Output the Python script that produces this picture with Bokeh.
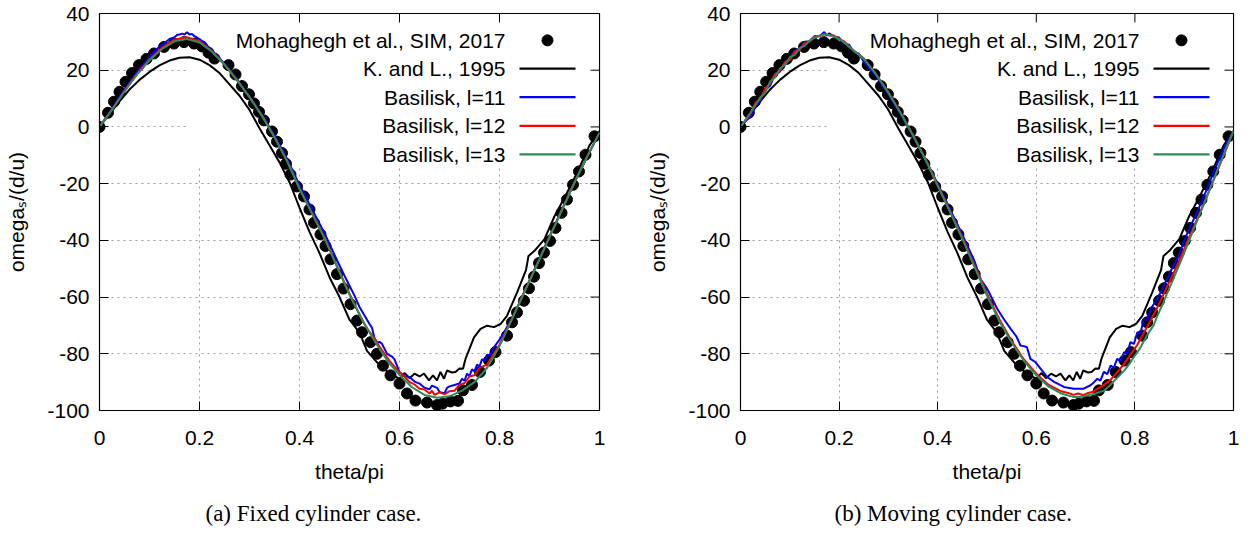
from bokeh.plotting import figure
from bokeh.layouts import row
from bokeh.models import FixedTicker, CustomJSTickFormatter, Label, Title
from bokeh.embed import file_html
from bokeh.resources import INLINE

# ---------------- data ----------------
x_ticks = [0, 0.2, 0.4, 0.6, 0.8, 1]
y_ticks = [-100, -80, -60, -40, -20, 0, 20, 40]

legend_labels = ["Mohaghegh et al., SIM, 2017", "K. and L., 1995",
                 "Basilisk, l=11", "Basilisk, l=12", "Basilisk, l=13"]
captions = ["(a) Fixed cylinder case.", "(b) Moving cylinder case."]
x_label = "theta/pi"
y_label = "omega\u209b/(d/u)"

# Mohaghegh et al. (same reference data in both panels)
theta_dots = [0.000, 0.017, 0.029, 0.040, 0.052, 0.065, 0.079, 0.094, 0.109, 0.129,
              0.149, 0.169, 0.189, 0.205, 0.218, 0.230, 0.258, 0.272, 0.285, 0.299,
              0.309, 0.319, 0.329, 0.345, 0.355, 0.365, 0.373, 0.382, 0.395, 0.409,
              0.420, 0.429, 0.442, 0.452, 0.462, 0.475, 0.488, 0.502, 0.515, 0.525,
              0.542, 0.555, 0.567, 0.582, 0.600, 0.615, 0.632, 0.655, 0.675, 0.686,
              0.702, 0.717, 0.727, 0.745, 0.761, 0.779, 0.792, 0.815, 0.825, 0.835,
              0.849, 0.859, 0.869, 0.879, 0.889, 0.901, 0.912, 0.924, 0.935, 0.947,
              0.959, 0.972, 0.990]
omega_dots = [0.0, 5.0, 8.9, 12.4, 15.9, 19.0, 21.8, 24.0, 25.9, 28.2,
              29.4, 29.9, 29.4, 28.4, 26.2, 24.1, 21.8, 18.5, 14.4, 11.5,
              8.3, 5.3, 2.3, -1.6, -5.2, -9.2, -13.0, -16.8, -21.0, -24.5,
              -29.1, -33.8, -37.9, -42.0, -46.7, -51.9, -57.0, -62.5, -68.3, -72.4,
              -75.9, -80.0, -84.2, -87.6, -90.5, -94.0, -96.5, -97.2, -98.1, -97.6,
              -96.8, -96.6, -92.9, -91.0, -86.4, -82.4, -79.4, -73.6, -68.9, -65.4,
              -61.3, -56.9, -52.8, -48.0, -44.3, -40.2, -35.6, -30.3, -25.6, -20.4,
              -15.7, -9.8, -3.3]

# K. and L., 1995 (same in both panels)
theta_kl = [0.0, 0.02, 0.04, 0.06, 0.08, 0.10, 0.12, 0.14, 0.16, 0.18,
            0.20, 0.22, 0.24, 0.26, 0.28, 0.30, 0.32, 0.34, 0.36, 0.38,
            0.40, 0.42, 0.44, 0.46, 0.48, 0.50, 0.52, 0.535, 0.555, 0.58,
            0.60, 0.61, 0.62, 0.63, 0.64, 0.649, 0.659, 0.667, 0.675, 0.682,
            0.689, 0.695, 0.705, 0.712, 0.72, 0.727, 0.732, 0.749, 0.762, 0.775,
            0.789, 0.802, 0.815, 0.835, 0.853, 0.858, 0.87, 0.89, 0.91, 0.93,
            0.955, 0.98, 1.0]
omega_kl = [0.0, 4.5, 9.0, 13.2, 16.6, 19.4, 21.7, 23.4, 24.4, 24.6,
            23.7, 21.8, 19.0, 15.0, 11.0, 6.0, -0.5, -6.5, -12.5, -19.5,
            -28.5, -37.0, -44.5, -53.0, -60.0, -68.0, -72.5, -79.0, -83.0, -87.0,
            -88.8, -86.8, -88.6, -87.0, -88.0, -87.0, -89.4, -87.6, -89.4, -86.4,
            -88.8, -85.9, -86.6, -86.4, -85.2, -85.3, -81.8, -74.2, -71.2, -70.1,
            -70.6, -69.5, -66.6, -58.4, -50.5, -45.5, -43.7, -39.6, -31.5, -25.0,
            -16.2, -6.5, -1.5]

# ---- fixed cylinder ----
theta_fix_l11 = [0, 0.02, 0.04, 0.06, 0.08, 0.10, 0.11, 0.12, 0.13, 0.14,
                 0.15, 0.155, 0.16, 0.165, 0.17, 0.175, 0.18, 0.185, 0.19, 0.20,
                 0.21, 0.225, 0.25, 0.275, 0.3, 0.325, 0.35, 0.375, 0.4, 0.425,
                 0.45, 0.475, 0.49, 0.5, 0.51, 0.52, 0.53, 0.54, 0.545, 0.55,
                 0.555, 0.56, 0.565, 0.575, 0.585, 0.59, 0.6, 0.61, 0.62, 0.63,
                 0.64, 0.65, 0.66, 0.665, 0.675, 0.68, 0.69, 0.695, 0.70, 0.71,
                 0.72, 0.725, 0.73, 0.735, 0.74, 0.745, 0.75, 0.755, 0.76, 0.765,
                 0.77, 0.775, 0.78, 0.79, 0.8, 0.81, 0.82, 0.83, 0.85, 0.875,
                 0.9, 0.925, 0.95, 0.975, 1.0]
omega_fix_l11 = [0, 5.2, 10.6, 15.6, 20.4, 24.6, 26.6, 28.4, 29.6, 31.0,
                 31.6, 32.4, 32.6, 32.9, 32.6, 33.4, 32.6, 32.8, 32.0, 31.0,
                 29.6, 27.0, 22.3, 16.8, 10.8, 4.3, -3.0, -11.2, -20.5, -29.0,
                 -37.5, -47.0, -52.5, -56.0, -59.5, -63.5, -66.5, -69.5, -70.8, -74.5,
                 -76.0, -75.8, -76.5, -80.0, -81.0, -82.0, -86.5, -87.8, -88.2, -89.8,
                 -90.5, -92.0, -92.5, -91.2, -92.0, -93.5, -94.0, -92.0, -91.5, -91.0,
                 -90.5, -88.8, -89.5, -87.0, -87.8, -85.5, -86.2, -83.8, -84.5, -82.0,
                 -82.5, -80.3, -80.5, -77.5, -75.0, -72.2, -69.0, -66.0, -58.0, -48.3,
                 -38.6, -29.1, -19.5, -10.6, -2.0]

theta_fix_l12 = [0, 0.025, 0.05, 0.075, 0.1, 0.125, 0.15, 0.175, 0.2, 0.225,
                 0.25, 0.275, 0.3, 0.325, 0.35, 0.375, 0.4, 0.425, 0.45, 0.475,
                 0.5, 0.51, 0.52, 0.53, 0.54, 0.55, 0.56, 0.57, 0.58, 0.59,
                 0.6, 0.61, 0.62, 0.63, 0.64, 0.65, 0.66, 0.665, 0.67, 0.68,
                 0.69, 0.7, 0.71, 0.72, 0.73, 0.74, 0.75, 0.76, 0.775, 0.8,
                 0.825, 0.85, 0.875, 0.9, 0.925, 0.95, 0.975, 1.0]
omega_fix_l12 = [0, 6.1, 12.7, 18.7, 23.8, 28.0, 30.8, 31.6, 30.2, 26.7,
                 22.0, 16.5, 10.5, 3.9, -3.6, -12.0, -21.8, -30.5, -39.0, -49.0,
                 -58.8, -62.5, -66.0, -69.5, -72.3, -74.5, -77.5, -80.0, -82.5, -84.5,
                 -86.5, -88.0, -90.0, -90.8, -92.3, -92.6, -94.0, -93.0, -94.5, -93.6,
                 -94.3, -93.2, -93.0, -91.0, -90.3, -88.0, -87.6, -85.0, -83.8, -76.8,
                 -67.6, -58.0, -48.5, -38.8, -29.2, -19.6, -10.6, -2.0]

theta_fix_l13 = [0, 0.025, 0.05, 0.075, 0.1, 0.125, 0.15, 0.175, 0.2, 0.225,
                 0.25, 0.275, 0.3, 0.325, 0.35, 0.375, 0.4, 0.425, 0.45, 0.475,
                 0.5, 0.525, 0.55, 0.575, 0.6, 0.625, 0.65, 0.675, 0.7, 0.725,
                 0.75, 0.775, 0.8, 0.825, 0.85, 0.875, 0.9, 0.925, 0.95, 0.975, 1.0]
omega_fix_l13 = [0, 6.0, 12.5, 18.5, 23.5, 27.5, 30.2, 31.0, 29.8, 26.5,
                 22.0, 16.5, 10.5, 3.9, -3.6, -12.0, -21.8, -30.5, -39.3, -49.3,
                 -59.2, -68.0, -75.5, -82.3, -87.5, -91.8, -94.5, -95.5, -95.0, -93.0,
                 -90.0, -85.0, -77.3, -67.8, -58.2, -48.6, -38.9, -29.3, -19.6, -10.6, -2.0]

# ---- moving cylinder ----
theta_mov_l11 = [0, 0.01, 0.02, 0.03, 0.04, 0.05, 0.06, 0.07, 0.08, 0.09,
                 0.10, 0.11, 0.12, 0.13, 0.14, 0.15, 0.16, 0.17, 0.175, 0.18,
                 0.19, 0.20, 0.21, 0.22, 0.23, 0.24, 0.25, 0.275, 0.3, 0.325,
                 0.35, 0.375, 0.4, 0.425, 0.45, 0.475, 0.487, 0.5, 0.521, 0.535,
                 0.548, 0.56, 0.568, 0.575, 0.581, 0.588, 0.598, 0.609, 0.622, 0.636,
                 0.656, 0.676, 0.696, 0.71, 0.717, 0.724, 0.73, 0.737, 0.744, 0.751,
                 0.757, 0.764, 0.771, 0.778, 0.784, 0.791, 0.798, 0.805, 0.811, 0.818,
                 0.825, 0.832, 0.842, 0.852, 0.865, 0.875, 0.89, 0.9, 0.91, 0.925,
                 0.94, 0.955, 0.97, 0.985, 1.0]
omega_mov_l11 = [0, 2.0, 3.5, 7.5, 9.0, 13.0, 14.5, 18.5, 19.5, 23.0,
                 23.8, 27.0, 27.5, 30.0, 30.2, 32.0, 32.0, 33.5, 32.2, 33.0,
                 31.8, 31.5, 29.4, 29.0, 26.5, 25.8, 23.0, 18.0, 11.5, 4.5,
                 -3.2, -11.5, -20.0, -29.0, -38.0, -47.5, -53.7, -57.0, -64.2, -68.0,
                 -71.2, -74.0, -77.1, -77.3, -77.7, -81.8, -82.9, -85.3, -88.2, -89.9,
                 -91.7, -92.3, -92.3, -91.1, -90.0, -88.8, -89.5, -86.4, -87.2, -84.1,
                 -85.0, -81.8, -82.6, -79.4, -80.0, -75.9, -76.5, -72.4, -73.0, -67.7,
                 -68.0, -64.2, -61.5, -58.4, -53.7, -50.0, -45.0, -40.0, -36.0, -30.5,
                 -24.5, -18.0, -11.8, -6.0, -1.5]

theta_mov_l12 = [0, 0.02, 0.03, 0.04, 0.05, 0.06, 0.07, 0.08, 0.09, 0.10,
                 0.11, 0.12, 0.13, 0.14, 0.15, 0.16, 0.17, 0.18, 0.19, 0.20,
                 0.21, 0.225, 0.25, 0.275, 0.3, 0.325, 0.35, 0.375, 0.4, 0.425,
                 0.45, 0.475, 0.5, 0.525, 0.55, 0.575, 0.6, 0.625, 0.65, 0.665,
                 0.675, 0.685, 0.695, 0.705, 0.715, 0.725, 0.737, 0.75, 0.764, 0.778,
                 0.791, 0.805, 0.818, 0.832, 0.845, 0.855, 0.865, 0.88, 0.9, 0.925,
                 0.95, 0.975, 1.0]
omega_mov_l12 = [0, 4.5, 8.4, 9.8, 13.6, 15.2, 18.6, 19.8, 22.8, 23.6,
                 26.6, 27.2, 29.6, 30.0, 31.8, 32.0, 32.8, 32.2, 32.2, 31.0,
                 30.2, 27.6, 24.2, 18.6, 12.2, 5.0, -2.8, -11.2, -20.5, -29.6,
                 -39.0, -49.0, -58.8, -67.8, -75.5, -82.0, -87.0, -91.0, -93.2, -93.8,
                 -94.5, -94.0, -94.6, -93.8, -93.4, -92.2, -91.0, -89.3, -86.5, -83.6,
                 -80.2, -76.8, -72.6, -68.2, -63.8, -60.2, -56.5, -51.0, -43.0, -33.0,
                 -22.8, -12.2, -1.5]

theta_mov_l13 = [0, 0.02, 0.03, 0.04, 0.05, 0.06, 0.07, 0.08, 0.09, 0.10,
                 0.11, 0.12, 0.13, 0.14, 0.15, 0.16, 0.17, 0.18, 0.19, 0.20,
                 0.21, 0.225, 0.25, 0.275, 0.3, 0.325, 0.35, 0.375, 0.4, 0.425,
                 0.45, 0.475, 0.5, 0.525, 0.55, 0.575, 0.6, 0.625, 0.65, 0.675,
                 0.69, 0.7, 0.72, 0.737, 0.75, 0.764, 0.78, 0.79, 0.8, 0.81,
                 0.818, 0.83, 0.838, 0.845, 0.855, 0.865, 0.875, 0.89, 0.9, 0.91,
                 0.925, 0.94, 0.955, 0.97, 0.985, 1.0]
omega_mov_l13 = [0, 5.0, 7.6, 10.4, 12.0, 16.0, 17.4, 20.6, 21.8, 24.5,
                 25.4, 27.8, 28.6, 30.4, 31.4, 32.2, 32.6, 32.4, 31.8, 31.0,
                 29.8, 27.6, 24.0, 18.5, 12.0, 4.8, -3.0, -11.5, -20.8, -30.0,
                 -39.5, -49.5, -59.5, -68.5, -76.0, -82.5, -87.6, -91.6, -94.0, -95.2,
                 -95.2, -94.8, -94.0, -93.0, -91.0, -88.5, -85.6, -83.2, -80.6, -78.2,
                 -75.6, -72.0, -70.0, -66.8, -63.0, -58.8, -54.8, -48.6, -44.4, -40.0,
                 -33.6, -27.2, -20.6, -14.0, -7.6, -1.5]

# ---------------- styling ----------------
FONT = "Liberation Sans"
SERIF = "Liberation Serif"
FS = "21px"
COL_L11 = "#0000ff"
COL_L12 = "#ff0000"
COL_L13 = "#2e8b57"
GRID_COL = "#9a9a9a"

FIG_H = 538
TOP, BOTTOM = 13, 126
FRAME_H = FIG_H - TOP - BOTTOM
Y0, Y1 = -100, 40


def make_panel(width, left, right, caption, caption_offset, l11, l12, l13):
    frame_w = width - left - right
    dx = 1.0 / frame_w                # data units per pixel (x)
    dy = (Y1 - Y0) / FRAME_H          # data units per pixel (y)

    p = figure(width=width, height=FIG_H, x_range=(0, 1), y_range=(Y0, Y1),
               output_backend="svg", toolbar_location=None,
               min_border_left=left, min_border_right=right,
               min_border_top=TOP, min_border_bottom=BOTTOM,
               x_axis_label=x_label, y_axis_label=y_label)
    p.background_fill_color = "white"
    p.border_fill_color = "white"
    p.outline_line_color = "black"
    p.outline_line_width = 1.2

    p.xaxis.ticker = FixedTicker(ticks=x_ticks)
    p.yaxis.ticker = FixedTicker(ticks=y_ticks)
    p.xaxis.formatter = CustomJSTickFormatter(code="return String(tick)")
    p.yaxis.formatter = CustomJSTickFormatter(code="return String(tick)")
    for ax in (p.xaxis[0], p.yaxis[0]):
        ax.major_tick_in = 9
        ax.major_tick_out = 0
        ax.minor_tick_line_color = None
        ax.axis_line_color = "black"
        ax.major_tick_line_color = "black"
        ax.major_label_text_font = FONT
        ax.major_label_text_font_size = FS
        ax.major_label_text_color = "black"
        ax.axis_label_text_font = FONT
        ax.axis_label_text_font_size = FS
        ax.axis_label_text_font_style = "normal"
        ax.axis_label_text_color = "black"
    p.xaxis.major_label_standoff = 20
    p.yaxis.major_label_standoff = 10
    p.xaxis.axis_label_standoff = 12
    p.yaxis.axis_label_standoff = 16

    p.xgrid.ticker = FixedTicker(ticks=x_ticks)
    p.ygrid.ticker = FixedTicker(ticks=y_ticks)
    p.grid.grid_line_color = GRID_COL
    p.grid.grid_line_dash = "2 4"
    p.grid.grid_line_width = 1

    # opaque key box (hides grid behind legend)
    p.quad(left=[87 * dx], right=[1 - 0.8 * dx], bottom=[Y1 - 152 * dy],
           top=[Y1 - 0.8 * dy], fill_color="white", line_color=None)

    # mirrored tick marks on top and right borders
    xt = x_ticks[1:-1]
    yt = y_ticks[1:-1]
    p.segment(x0=xt, x1=xt, y0=[Y1] * len(xt), y1=[Y1 - 9 * dy] * len(xt),
              line_color="black", line_width=1)
    p.segment(x0=[1] * len(yt), x1=[1 - 9 * dx] * len(yt), y0=yt, y1=yt,
              line_color="black", line_width=1)

    # data
    p.scatter(theta_dots, omega_dots, size=11, color="black")
    p.line(theta_kl, omega_kl, line_color="black", line_width=2)
    p.line(l11[0], l11[1], line_color=COL_L11, line_width=2)
    p.line(l12[0], l12[1], line_color=COL_L12, line_width=2)
    p.line(l13[0], l13[1], line_color=COL_L13, line_width=2)

    # legend (gnuplot style: text right-justified, sample on the right)
    rows_px = [27, 55.5, 84, 113, 141.5]   # offsets below frame top
    rows = [Y1 - r * dy for r in rows_px]
    text_x = 1 - 94 * dx
    for lab, ry in zip(legend_labels, rows):
        p.add_layout(Label(x=text_x, y=ry, text=lab, text_align="right",
                           text_baseline="middle", text_font=FONT,
                           text_font_size=FS, text_color="black"))
    p.scatter([1 - 52 * dx], [rows[0]], size=11, color="black")
    p.segment(x0=[1 - 80 * dx] * 4, x1=[1 - 24 * dx] * 4, y0=rows[1:], y1=rows[1:],
              line_color=["black", COL_L11, COL_L12, COL_L13], line_width=2.2)

    # caption below the axis
    t = Title(text=caption, align="left", offset=caption_offset, standoff=26,
              text_font=SERIF, text_font_size="23px", text_font_style="normal",
              text_color="black")
    p.add_layout(t, "below")
    return p


p1 = make_panel(627, 99, 28, captions[0], 106,
                (theta_fix_l11, omega_fix_l11), (theta_fix_l12, omega_fix_l12),
                (theta_fix_l13, omega_fix_l13))
p2 = make_panel(628, 113, 22, captions[1], 94,
                (theta_mov_l11, omega_mov_l11), (theta_mov_l12, omega_mov_l12),
                (theta_mov_l13, omega_mov_l13))

layout = row(p1, p2, spacing=0)
open("out.html", "w").write(file_html(layout, INLINE))
